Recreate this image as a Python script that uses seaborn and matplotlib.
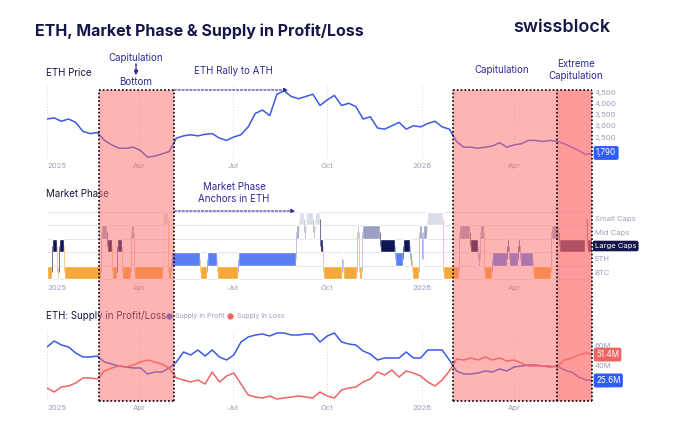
import matplotlib
matplotlib.use("Agg")
import pandas as pd
import matplotlib.pyplot as plt
import matplotlib.dates as mdates
from matplotlib.lines import Line2D
from matplotlib.ticker import FuncFormatter
import seaborn as sns

# ---- data (weekly samples) ----
START = "2025-01-01"
END = "2026-06-16"
weeks = pd.date_range(START, periods=77, freq="7D")

eth_price = [3300, 3350, 3200, 3300, 3150, 2750, 2650, 2700, 2350, 2150,
             2000, 2000, 2050, 1900, 1600, 1650, 1750, 1850, 2450, 2550,
             2600, 2550, 2620, 2650, 2450, 2350, 2500, 2600, 2950, 3550,
             3700, 3450, 4400, 4550, 4300, 4200, 4300, 4400, 3900, 4150,
             4350, 3900, 4000, 3850, 3300, 3400, 2900, 2850, 3000, 3150,
             2850, 3000, 2950, 3100, 3200, 2950, 2850, 2300, 2050, 2050,
             2000, 2050, 2100, 2250, 2050, 2150, 2200, 2350, 2350, 2300,
             2350, 2300, 2200, 2050, 1900, 1720, 1790]

# millions of ETH
supply_profit = [59, 65, 61, 59, 53, 49, 49, 50, 44, 42,
                 40, 39, 38, 38, 32, 34, 34, 38, 44, 54,
                 51, 56, 50, 56, 49, 46, 51, 64, 69, 71,
                 72, 70, 73, 73, 71, 71, 72, 72, 64, 70,
                 73, 64, 62, 61, 55, 52, 46, 48, 48, 48,
                 54, 48, 48, 56, 56, 56, 46, 35, 32, 32,
                 33, 35, 34, 37, 35, 39, 40, 41, 41, 40,
                 39, 40, 36, 34, 29, 26, 25.6]

supply_loss = [18, 14, 19, 20, 23, 28, 28, 27, 35, 38,
               40, 39, 41, 44, 46, 44, 42, 38, 28, 26,
               24, 26, 22, 34, 24, 30, 33, 22, 11, 9,
               8, 10, 7, 8, 9, 10, 9, 8, 14, 10,
               8, 16, 18, 19, 24, 27, 34, 31, 36, 29,
               35, 33, 30, 24, 20, 26, 35, 47, 46, 48,
               46, 49, 46, 48, 45, 46, 43, 40, 40, 40,
               40, 39, 46, 48, 51, 53, 51.4]

phase_names = ["BTC", "ETH", "Large Caps", "Mid Caps", "Small Caps"]
phase_start = ["2025-01-01", "2025-01-06", "2025-01-11", "2025-01-13", "2025-01-18",
               "2025-02-23", "2025-02-28", "2025-03-05", "2025-03-10", "2025-03-15",
               "2025-03-24", "2025-03-27", "2025-04-24", "2025-04-29", "2025-05-02",
               "2025-05-30", "2025-06-06", "2025-06-16", "2025-07-06", "2025-09-01",
               "2025-09-04", "2025-09-08", "2025-09-10", "2025-09-17", "2025-09-19",
               "2025-09-24", "2025-09-27", "2025-10-15", "2025-10-16", "2025-10-30",
               "2025-11-01", "2025-11-04", "2025-11-21", "2025-12-06", "2025-12-14",
               "2025-12-21", "2025-12-23", "2025-12-29", "2026-01-01", "2026-01-02",
               "2026-01-06", "2026-01-22", "2026-02-06", "2026-02-17", "2026-02-25",
               "2026-02-27", "2026-03-03", "2026-03-11", "2026-03-25", "2026-03-27",
               "2026-04-05", "2026-04-07", "2026-04-20", "2026-05-07", "2026-05-15",
               "2026-06-09", "2026-06-11"]
phase_label = ["BTC", "Large Caps", "BTC", "Large Caps", "BTC",
               "Mid Caps", "Large Caps", "BTC", "Large Caps", "BTC",
               "Mid Caps", "BTC", "Small Caps", "BTC", "ETH",
               "BTC", "ETH", "BTC", "ETH", "Mid Caps",
               "Small Caps", "Mid Caps", "Small Caps", "Mid Caps", "Small Caps",
               "Large Caps", "BTC", "ETH", "BTC", "Mid Caps",
               "BTC", "Mid Caps", "Large Caps", "ETH", "Large Caps",
               "ETH", "BTC", "Mid Caps", "ETH", "Mid Caps",
               "Small Caps", "BTC", "Mid Caps", "Large Caps", "ETH",
               "Mid Caps", "BTC", "ETH", "Large Caps", "ETH",
               "Large Caps", "ETH", "BTC", "Mid Caps", "Large Caps",
               "Small Caps", "Large Caps"]

capitulation_zones = [("2025-02-21", "2025-05-05"), ("2026-02-01", "2026-05-13")]
extreme_zone = ("2026-05-13", END)

price_ticks = [2000, 2500, 3000, 3500, 4000, 4500]
supply_ticks = [20, 40, 60]
month_ticks = ["2025-01-01", "2025-04-01", "2025-07-01", "2025-10-01", "2026-01-01", "2026-04-01"]
month_labels = ["2025", "Apr", "Jul", "Oct", "2026", "Apr"]

# ---- style ----
NAVY = "#16164a"
INDIGO = "#2b2a98"
GREY = "#9c9eb8"
BLUE = "#3a5ae0"
RED = "#f06464"
PHASE_COLORS = {"BTC": "#f4a93a", "ETH": "#5b7ff2", "Large Caps": "#0e1553",
                "Mid Caps": "#9ba0c2", "Small Caps": "#dadce8"}

sns.set_theme(style="white")
plt.rcParams["font.family"] = ["Inter", "DejaVu Sans"]

W, H = 680, 434
fig = plt.figure(figsize=(W / 100, H / 100), dpi=100)


def frame(top, bottom, left=47, right=592):
    return [left / W, 1 - bottom / H, (right - left) / W, (bottom - top) / H]


def px(x, y):
    return (x / W, 1 - y / H)


x0, x1 = pd.Timestamp(START), pd.Timestamp(END)


def style_panel(ax):
    ax.set_xlim(x0, x1)
    for s in ax.spines.values():
        s.set_visible(False)
    ax.set_xticks(pd.to_datetime(month_ticks))
    ax.set_xticklabels(month_labels)
    ax.get_xticklabels()[0].set_ha("left")
    ax.tick_params(axis="x", length=0, pad=2.5, labelsize=5.5, labelcolor=GREY)
    ax.yaxis.tick_right()
    ax.tick_params(axis="y", length=0, pad=2, labelsize=5.5, labelcolor=GREY)
    ax.set_xlabel("")
    ax.set_ylabel("")


def value_tag(ax, y, text, color):
    ax.text(1.0075, y, text, transform=ax.get_yaxis_transform(), ha="left", va="center",
            fontsize=5.8, color="white", clip_on=False, zorder=6,
            bbox=dict(boxstyle="round,pad=0.3,rounding_size=0.25", fc=color, ec="none"))


# ---- ETH price ----
ax_price = fig.add_axes(frame(86, 160))
sns.lineplot(x=weeks, y=eth_price, ax=ax_price, color=BLUE, linewidth=1.1)
style_panel(ax_price)
ax_price.set_ylim(1478, 4767)
ax_price.set_yticks(price_ticks)
ax_price.yaxis.set_major_formatter(FuncFormatter(lambda v, p: f"{v:,.0f}"))
ax_price.grid(True, axis="x", color="#d8d8e4", ls=(0, (1, 2)), lw=0.7)
value_tag(ax_price, eth_price[-1], f"{eth_price[-1]:,}", "#2f5cff")

# ---- market phase ----
ax_phase = fig.add_axes(frame(209, 282))
starts = pd.to_datetime(phase_start)
ends = list(starts[1:]) + [x1]
prev_band = None
for s, e, lab in zip(starts, ends, phase_label):
    band = phase_names.index(lab)
    s_num, e_num = mdates.date2num(s), mdates.date2num(e)
    ax_phase.broken_barh([(s_num, e_num - s_num)], (band, 1), facecolors=PHASE_COLORS[lab], zorder=2)
    if prev_band is not None:
        ax_phase.vlines(s_num, prev_band + 0.5, band + 0.5, color=PHASE_COLORS[lab], lw=0.7, alpha=0.6, zorder=2)
    prev_band = band
for level in range(6):
    ax_phase.axhline(level, color="#e6e6ee", lw=0.8, zorder=0)
style_panel(ax_phase)
ax_phase.set_ylim(-0.22, 5.22)
ax_phase.set_yticks([i + 0.5 for i in range(len(phase_names))])
ax_phase.set_yticklabels(phase_names)
large = ax_phase.get_yticklabels()[2]
large.set_color("white")
large.set_bbox(dict(boxstyle="round,pad=0.3,rounding_size=0.25", fc=NAVY, ec="none"))

# ---- supply in profit / loss ----
ax_supply = fig.add_axes(frame(330, 402))
sns.lineplot(x=weeks, y=supply_profit, ax=ax_supply, color=BLUE, linewidth=1.1)
sns.lineplot(x=weeks, y=supply_loss, ax=ax_supply, color=RED, linewidth=1.1)
style_panel(ax_supply)
ax_supply.set_ylim(4, 76)
ax_supply.set_yticks(supply_ticks)
ax_supply.yaxis.set_major_formatter(FuncFormatter(lambda v, p: f"{v:.0f}M"))
ax_supply.grid(True, axis="x", color="#d8d8e4", ls=(0, (1, 2)), lw=0.7)
value_tag(ax_supply, supply_loss[-1], f"{supply_loss[-1]}M", RED)
value_tag(ax_supply, supply_profit[-1], f"{supply_profit[-1]}M", "#2f5cff")

# ---- capitulation overlay spanning all panels ----
ax_zone = fig.add_axes(frame(90, 401), zorder=10)
ax_zone.set_xlim(x0, x1)
ax_zone.set_ylim(0, 1)
ax_zone.set_axis_off()
for s, e in capitulation_zones:
    ax_zone.axvspan(pd.Timestamp(s), pd.Timestamp(e), color="#ff6b6b", alpha=0.5, lw=0)
ax_zone.axvspan(pd.Timestamp(extreme_zone[0]), pd.Timestamp(extreme_zone[1]), color="#ff6b6b", alpha=0.68, lw=0)
dots = dict(color="black", lw=1.2, ls=(0, (1, 1.3)), clip_on=False)
boxes = [capitulation_zones[0], (capitulation_zones[1][0], extreme_zone[1])]
for s, e in boxes:
    s, e = pd.Timestamp(s), pd.Timestamp(e)
    ax_zone.vlines([s, e], 0, 1, **dots)
    ax_zone.hlines([0, 1], s, e, **dots)
ax_zone.vlines(pd.Timestamp(extreme_zone[0]), 0, 1, **dots)

# ---- texts & annotations ----
fig.text(*px(35, 31), "ETH, Market Phase & Supply in Profit/Loss", fontsize=11.5,
         fontweight="bold", color=NAVY, va="center", ha="left")
fig.text(*px(562, 28), "swissblock", fontsize=13, fontweight="semibold", color=NAVY,
         va="center", ha="center")

panel_title = dict(fontsize=7, color=NAVY, va="center", ha="left")
fig.text(*px(46, 73), "ETH Price", **panel_title)
fig.text(*px(46, 194), "Market Phase", **panel_title)
fig.text(*px(46, 316), "ETH: Supply in Profit/Loss", **panel_title)

note = dict(fontsize=7, color=INDIGO, va="center", ha="center", linespacing=1.15)
fig.text(*px(136, 58), "Capitulation", **note)
fig.text(*px(136, 82), "Bottom", **note)
fig.text(*px(233, 71), "ETH Rally to ATH", **note)
fig.text(*px(502, 70), "Capitulation", **note)
fig.text(*px(576, 70), "Extreme\nCapitulation", **note)
fig.text(*px(234, 193), "Market Phase\nAnchors in ETH", **note)

arrow = dict(arrowstyle="-|>", color=INDIGO, lw=0.8, ls=(0, (2, 1.5)), mutation_scale=6,
             shrinkA=0, shrinkB=0)
fig.add_artist(plt.annotate("", xy=px(136, 75), xytext=px(136, 64), xycoords="figure fraction",
                            arrowprops=arrow))
ax_price.annotate("", xy=(pd.Timestamp("2025-08-24"), 4590), xytext=(pd.Timestamp("2025-05-05"), 4590),
                  arrowprops=arrow, annotation_clip=False)
ax_phase.annotate("", xy=(pd.Timestamp("2025-08-31"), 5.07), xytext=(pd.Timestamp("2025-05-05"), 5.07),
                  arrowprops=arrow, annotation_clip=False)

handles = [Line2D([], [], ls="none", marker="o", ms=3.5, color=BLUE),
           Line2D([], [], ls="none", marker="o", ms=3.5, color=RED)]
fig.legend(handles, ["Supply in Profit", "Supply in Loss"], loc="center left",
           bbox_to_anchor=px(166, 316), ncol=2, frameon=False, fontsize=5, labelcolor=GREY,
           handletextpad=0.5, columnspacing=0.4, handlelength=0.8, borderpad=0, borderaxespad=0)

fig.savefig("out.png", dpi=100)
